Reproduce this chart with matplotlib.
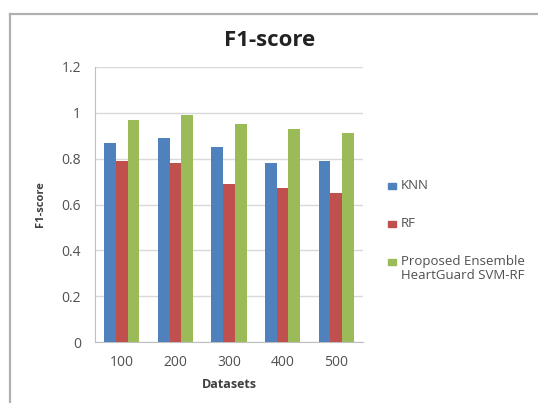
import matplotlib
matplotlib.use("Agg")
import matplotlib.pyplot as plt
import numpy as np
from matplotlib.lines import Line2D

datasets = ["100", "200", "300", "400", "500"]
knn = [0.87, 0.89, 0.85, 0.78, 0.79]
rf = [0.79, 0.78, 0.69, 0.67, 0.65]
proposed = [0.97, 0.99, 0.95, 0.93, 0.91]
series_names = ["KNN", "RF", "Proposed Ensemble\nHeartGuard SVM-RF"]
colors = ["#4F81BD", "#C0504D", "#9BBB59"]
yticks = [0, 0.2, 0.4, 0.6, 0.8, 1, 1.2]
ytick_labels = ["0", "0.2", "0.4", "0.6", "0.8", "1", "1.2"]

plt.rcParams["font.family"] = ["Open Sans", "DejaVu Sans"]

fig = plt.figure(figsize=(5.38, 4.03), dpi=100)
W, H = 538, 403

# outer chart frame (left and top edges)
fig.add_artist(Line2D([10 / W, 10 / W], [0, 1 - 14 / H], transform=fig.transFigure,
                      color="#b0b0b0", lw=1.6))
fig.add_artist(Line2D([10 / W, 537 / W], [1 - 14 / H, 1 - 14 / H], transform=fig.transFigure,
                      color="#b0b0b0", lw=1.6))

ax = fig.add_axes([95 / W, 1 - 342 / H, (363 - 95) / W, (342 - 67) / H])

x = np.arange(len(datasets))
bw = 0.22
for i, (vals, name, c) in enumerate(zip([knn, rf, proposed], series_names, colors)):
    ax.bar(x + (i - 1) * bw, vals, width=bw, color=c, label=name, zorder=3)

ax.set_xlim(-0.5, len(datasets) - 0.5)
ax.set_ylim(0, 1.2)
ax.set_yticks(yticks)
ax.set_yticklabels(ytick_labels)
ax.set_xticks(x)
ax.set_xticklabels(datasets)
ax.grid(axis="y", color="#d9d9d9", lw=1, zorder=0)
for s in ["top", "right"]:
    ax.spines[s].set_visible(False)
ax.spines["left"].set_color("#bfbfbf")
ax.spines["bottom"].set_color("#bfbfbf")
ax.tick_params(axis="y", length=0, labelsize=10, labelcolor="#505050", pad=10)
ax.tick_params(axis="x", length=0, labelsize=10, labelcolor="#505050", pad=9)

ax.set_xlabel("Datasets", fontsize=9, fontweight="bold", color="#404040", labelpad=6)
ax.set_ylabel("F1-score", fontsize=8, fontweight="bold", color="#404040", labelpad=11)

fig.text(270 / W, 1 - 40 / H, "F1-score", ha="center", va="center",
         fontsize=16, fontweight="bold", color="#222222")

# legend entries
legend_y = [186, 224, 262]
for name, c, ly in zip(series_names, colors, legend_y):
    fig.patches.append(plt.Rectangle((388 / W, 1 - (ly + 3) / H), 8 / W, 6 / H,
                                     transform=fig.transFigure, color=c))
    fig.text(401 / W, 1 - (ly - 7) / H, name, ha="left", va="top",
             fontsize=9.5, color="#505050", linespacing=1.12)

fig.savefig("out.png", dpi=100)
